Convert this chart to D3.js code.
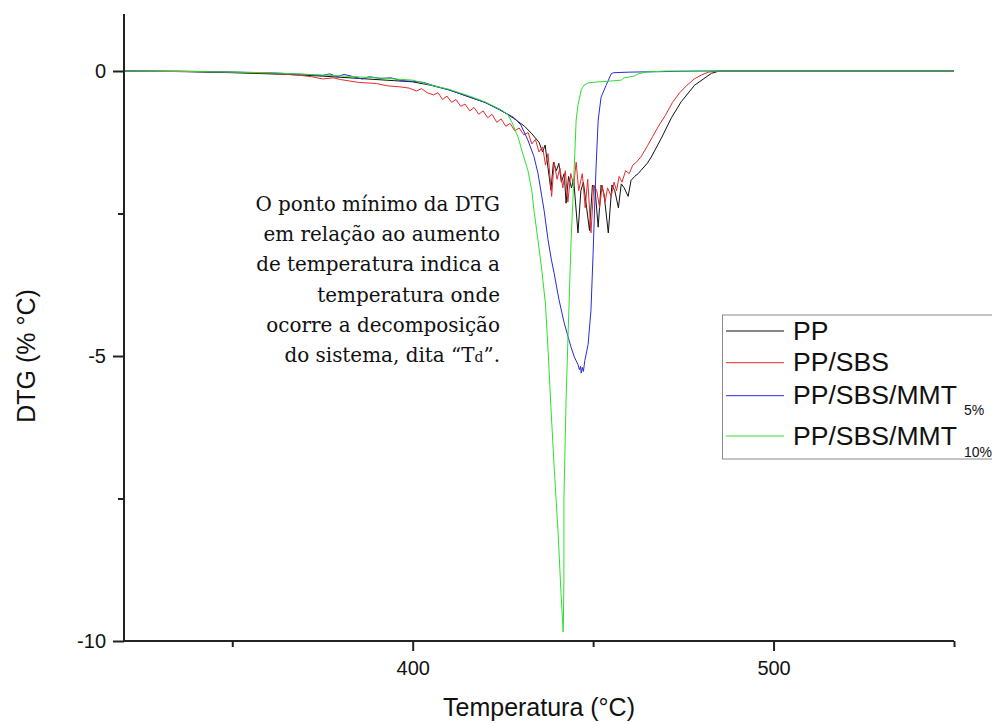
<!DOCTYPE html>
<html>
<head>
<meta charset="utf-8">
<script src="https://cdn.jsdelivr.net/npm/d3@7"></script>
<style>
  html, body { margin: 0; padding: 0; background: #fff; }
  svg { display: block; }
</style>
</head>
<body>
<svg id="chart" width="992" height="724"></svg>
<script>
// ---------------- DATA ----------------
const seriesNames = ["PP", "PP/SBS", "PP/SBS/MMT", "PP/SBS/MMT"];
const seriesSubs  = ["", "", "5%", "10%"];

// [temperature °C, DTG %/°C]
const ppData = [
  [320,0],[335,-0.01],[350,-0.03],[365,-0.06],[375,-0.09],[385,-0.13],[395,-0.17],[400,-0.19],
  [405,-0.25],[410,-0.33],[415,-0.44],[420,-0.55],[424,-0.67],[428,-0.83],[431,-0.97],[433,-1.1],
  [435,-1.25],[436,-1.42],[436.7,-1.3],[437.5,-1.7],[438.3,-2.09],[439,-1.6],[439.8,-1.75],[440.5,-1.62],
  [441.2,-1.95],[442,-1.8],[442.5,-2.32],[443.2,-1.85],[444,-2.05],[444.6,-1.9],[445.8,-2.84],[446.6,-2.1],
  [447.3,-1.95],[448.2,-2.4],[449,-2.8],[449.8,-2.0],[450.5,-2.05],[451.4,-2.74],[452.2,-2.0],[453,-2.15],
  [454.2,-2.84],[455.2,-2.0],[456,-2.1],[457,-2.4],[457.8,-1.98],[458.6,-2.05],[459.7,-2.2],[460.5,-1.92],
  [461.5,-1.85],[462.5,-1.8],[463.3,-1.74],[465,-1.62],[466.1,-1.51],[468.9,-1.18],[471.7,-0.82],
  [474.4,-0.54],[478.1,-0.25],[482.8,-0.04],[485,0],[550,0]
];

const ppSbsData = [
  [320,0],[335,0],[350,-0.02],[360,-0.04],[368,-0.07],[372,-0.1],[375,-0.14],[378,-0.12],[380,-0.15],
  [385,-0.2],[390,-0.22],[393,-0.26],[396.7,-0.28],[399,-0.3],[401,-0.35],[402.5,-0.31],[404,-0.38],
  [405.8,-0.42],[407,-0.38],[408.3,-0.5],[409.5,-0.44],[410.8,-0.55],[412,-0.5],[413.3,-0.62],[414.5,-0.58],
  [415.8,-0.7],[417,-0.64],[418.3,-0.76],[419.5,-0.7],[420.8,-0.82],[422,-0.76],[423.3,-0.9],[424.5,-0.84],
  [425.8,-0.97],[427,-0.92],[428.3,-1.05],[429.5,-1.0],[430.8,-1.12],[432,-1.08],[433,-1.28],[434,-1.2],
  [435,-1.42],[436,-1.33],[436.8,-1.65],[437.5,-1.45],[438.5,-2.2],[439.2,-1.6],[440,-1.9],[440.8,-1.7],
  [441.6,-2.05],[442.3,-1.75],[443,-2.3],[443.8,-1.8],[444.6,-2.0],[445.3,-1.6],[446,-2.1],[447,-1.8],
  [447.8,-2.4],[448.5,-1.9],[449.4,-2.84],[450.2,-2.0],[451,-2.1],[451.8,-2.4],[452.5,-2.0],[453.3,-2.3],
  [454,-2.05],[455,-2.2],[455.8,-1.95],[456.5,-2.1],[457.2,-1.85],[458,-1.95],[459,-1.75],[460,-1.8],
  [461,-1.65],[462,-1.6],[463.3,-1.5],[465,-1.32],[466.5,-1.15],[468,-0.98],[470,-0.78],[472,-0.55],
  [474,-0.38],[476,-0.25],[478,-0.14],[480,-0.07],[482,-0.02],[484,0],[550,0]
];

const mmt5Data = [
  [320,0],[340,-0.01],[360,-0.03],[370,-0.06],[375,-0.08],[377,-0.05],[379,-0.1],[381,-0.06],[383,-0.09],
  [386,-0.14],[388,-0.1],[391,-0.13],[394,-0.12],[397,-0.17],[400,-0.18],[403,-0.2],[406,-0.26],[410,-0.33],
  [415,-0.44],[420,-0.55],[424,-0.68],[426.4,-0.76],[428.1,-0.82],[430,-0.95],[431.9,-1.21],[433.6,-1.5],
  [434.7,-1.79],[436.4,-2.44],[437.5,-2.96],[438.4,-3.3],[439.2,-3.55],[440.5,-4.0],[441.9,-4.4],[443,-4.65],
  [443.9,-4.85],[444.8,-5.02],[445.8,-5.15],[446.2,-5.24],[446.5,-5.18],[446.7,-5.3],[447,-5.2],[447.3,-5.27],
  [447.7,-5.08],[448.6,-4.8],[449.4,-4.2],[450,-3.19],[450.3,-2.61],[450.8,-1.7],[451.4,-0.86],[452.2,-0.46],
  [453.6,-0.25],[455,-0.05],[455.6,-0.03],[460,-0.02],[480,0],[550,0]
];

const mmt10Data = [
  [320,0],[340,-0.01],[360,-0.03],[375,-0.07],[390,-0.12],[400,-0.16],[405.8,-0.26],[410,-0.32],
  [415.3,-0.43],[420,-0.54],[422.5,-0.62],[425,-0.7],[426.4,-0.77],[427.5,-0.9],[429.2,-1.16],[430.5,-1.45],
  [431.9,-1.74],[433,-2.1],[433.6,-2.44],[434.7,-2.96],[435.8,-3.5],[436.8,-4.1],[437.6,-5.0],[438.3,-5.9],
  [439.2,-6.95],[440.3,-8.11],[441.1,-9.16],[441.7,-9.84],[441.9,-8.98],[441.9,-7.53],[442.5,-5.77],
  [443.1,-4.54],[443.9,-2.96],[444.4,-2.26],[445.3,-0.86],[445.8,-0.6],[446.7,-0.33],[447.5,-0.25],
  [448.6,-0.21],[451.4,-0.19],[454.2,-0.18],[457.8,-0.16],[458.6,-0.12],[461.4,-0.09],[462.5,-0.05],
  [464.7,-0.02],[470,0],[550,0]
];

const seriesData = [ppData, ppSbsData, mmt5Data, mmt10Data];
const seriesColors = ["#111111", "#e62a2a", "#2a2ad6", "#2ee02e"];

const xMajorTicks = [400, 500];
const xMinorTicks = [350, 450, 550];
const yMajorTicks = [0, -5, -10];
const yMinorTicks = [-2.5, -7.5];

const xTitle = "Temperatura (°C)";
const yTitle = "DTG (% °C)";
const noteLines = [
  "O ponto mínimo da DTG",
  "em relação ao aumento",
  "de temperatura indica a",
  "temperatura onde",
  "ocorre a decomposição",
  "do sistema, dita “T"
];

// ---------------- DRAW ----------------
const svg = d3.select("#chart");
const x = d3.scaleLinear().domain([320, 550]).range([124, 954]);
const y = d3.scaleLinear().domain([-10, 1]).range([641, 14]);

const axisColor = "#222";
const sans = "'Liberation Sans', Arial, sans-serif";

// series
const line = d3.line().x(d => x(d[0])).y(d => y(d[1]));
svg.append("g").selectAll("path")
  .data(seriesData)
  .join("path")
  .attr("d", d => line(d))
  .attr("fill", "none")
  .attr("stroke", (d, i) => seriesColors[i])
  .attr("stroke-width", 1)
  .attr("stroke-linejoin", "round");

// x axis
const gx = svg.append("g").attr("transform", `translate(0,${y(-10)})`);
gx.call(d3.axisBottom(x).tickValues(xMinorTicks).tickSize(6).tickFormat(""));
gx.call(g => g.select(".domain").remove());
const gx2 = svg.append("g").attr("transform", `translate(0,${y(-10)})`);
gx2.call(d3.axisBottom(x).tickValues(xMajorTicks).tickSize(10).tickPadding(10).tickSizeOuter(0).tickFormat(d => String(d)));
[gx, gx2].forEach(g => {
  g.selectAll("line").attr("stroke", axisColor).attr("stroke-width", 2);
  g.selectAll(".domain").attr("stroke", axisColor).attr("stroke-width", 2);
  g.selectAll("text").attr("font-family", sans).attr("font-size", 20).attr("fill", "#111");
});
gx2.select(".domain").attr("d", `M${x(320)},0H${x(550)}`);

// y axis
const gy = svg.append("g").attr("transform", `translate(${x(320)},0)`);
gy.call(d3.axisLeft(y).tickValues(yMinorTicks).tickSize(6).tickFormat(""));
gy.call(g => g.select(".domain").remove());
const gy2 = svg.append("g").attr("transform", `translate(${x(320)},0)`);
gy2.call(d3.axisLeft(y).tickValues(yMajorTicks).tickSize(11).tickPadding(7).tickSizeOuter(0).tickFormat(d => String(d)));
[gy, gy2].forEach(g => {
  g.selectAll("line").attr("stroke", axisColor).attr("stroke-width", 2);
  g.selectAll(".domain").attr("stroke", axisColor).attr("stroke-width", 2);
  g.selectAll("text").attr("font-family", sans).attr("font-size", 20).attr("fill", "#111");
});
gy2.select(".domain").attr("d", `M0,${y(1)}V${y(-10)}`);

// titles
svg.append("text")
  .attr("x", (x(320) + x(550)) / 2).attr("y", 716)
  .attr("text-anchor", "middle")
  .attr("font-family", sans).attr("font-size", 25).attr("fill", "#111")
  .text(xTitle);
svg.append("text")
  .attr("transform", `translate(35,${y(-5)}) rotate(-90)`)
  .attr("text-anchor", "middle")
  .attr("font-family", sans).attr("font-size", 25).attr("fill", "#111")
  .text(yTitle);

// annotation (serif, horizontally squeezed to the reference line widths)
const serif = "'DejaVu Serif', 'Liberation Serif', serif";
const noteSize = 21;
const note = svg.append("g").attr("font-family", serif).attr("fill", "#111");
const probe = note.append("text").attr("font-size", noteSize).text(noteLines[2]);
const squeeze = 244 / probe.node().getComputedTextLength();
probe.remove();
note.attr("transform", `translate(500,0) scale(${squeeze},1)`);
noteLines.forEach((t, i) => {
  const tx = note.append("text")
    .attr("x", 0).attr("y", 211 + i * 30.2)
    .attr("text-anchor", "end")
    .attr("font-size", noteSize);
  if (i === noteLines.length - 1) {
    tx.append("tspan").text(t);
    tx.append("tspan").attr("font-size", noteSize * 0.7).text("d");
    tx.append("tspan").text("”.");
  } else {
    tx.text(t);
  }
});

// legend
const leg = svg.append("g");
leg.append("rect")
  .attr("x", 722.5).attr("y", 315).attr("width", 300).attr("height", 144)
  .attr("fill", "#fff").attr("stroke", "#8a8a8a").attr("stroke-width", 1);
const legLineY = [331, 362.7, 395.7, 436];
const legTextY = [339.5, 371, 404, 445];
const legSubY = [0, 0, 415, 456.5];
const legProbe = leg.append("text").attr("font-family", sans).attr("font-size", 25).text(seriesNames[2]);
const legStretch = 164 / legProbe.node().getComputedTextLength();
legProbe.remove();
seriesNames.forEach((name, i) => {
  leg.append("line")
    .attr("x1", 726).attr("x2", 784)
    .attr("y1", legLineY[i]).attr("y2", legLineY[i])
    .attr("stroke", seriesColors[i]).attr("stroke-width", 1);
  leg.append("text")
    .attr("transform", `translate(793,${legTextY[i]}) scale(${legStretch},1)`)
    .attr("font-family", sans).attr("font-size", 25).attr("fill", "#111")
    .text(name);
  if (seriesSubs[i]) {
    leg.append("text")
      .attr("x", 964).attr("y", legSubY[i])
      .attr("font-family", sans).attr("font-size", 14).attr("fill", "#111")
      .text(seriesSubs[i]);
  }
});
</script>
</body>
</html>
